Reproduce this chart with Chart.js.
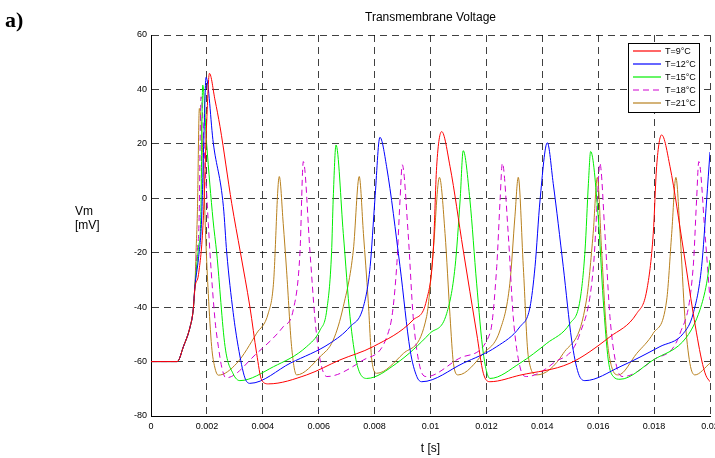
<!DOCTYPE html>
<html>
<head>
<meta charset="utf-8">
<script src="https://cdn.jsdelivr.net/npm/chart.js@4.4.1/dist/chart.umd.min.js"></script>
<style>
  html, body { margin: 0; padding: 0; background: #fff; overflow: hidden; }
  canvas { display: block; }
</style>
</head>
<body>
<canvas id="vm-chart" width="725" height="458"></canvas>
<script>
// Transmembrane voltage traces at five temperatures (t in s, Vm in mV)
const seriesLabels = ['T=9\u00B0C', 'T=12\u00B0C', 'T=15\u00B0C', 'T=18\u00B0C', 'T=21\u00B0C'];

const tT9 = [0, 0.00094, 0.00116, 0.0014, 0.00151, 0.00157, 0.0017, 0.00187, 0.002, 0.00209, 0.00229, 0.00247, 0.00289, 0.0032, 0.00354, 0.00378, 0.00396, 0.0042, 0.00557, 0.00676, 0.00795, 0.00938, 0.00986, 0.0101, 0.01022, 0.0104, 0.0107, 0.01117, 0.01165, 0.01189, 0.01213, 0.0132, 0.01499, 0.01642, 0.01738, 0.01774, 0.01797, 0.01809, 0.01827, 0.01857, 0.01905, 0.0194, 0.0197, 0.01985, 0.02];
const vT9 = [-60, -60, -54.5, -47.2, -41, -33, -28, -8, 30, 45.9, 36.1, 26.3, -2, -20, -40, -57, -66.8, -68.2, -64.9, -59.4, -54.5, -44.7, -37.4, -19, 11.6, 24.5, 11.6, -19, -49.5, -64.3, -67.4, -65, -60.6, -50.9, -42.3, -33.7, -12.9, 11.6, 23.3, 11.6, -19, -42.3, -59.4, -65, -67.4];

const tT12 = [0, 0.00094, 0.00116, 0.0014, 0.00151, 0.00157, 0.0017, 0.00181, 0.0019, 0.00197, 0.00223, 0.00259, 0.00271, 0.00294, 0.00312, 0.00336, 0.00354, 0.005, 0.0064, 0.00712, 0.0076, 0.00784, 0.00801, 0.00819, 0.00843, 0.00891, 0.00927, 0.00951, 0.00969, 0.01117, 0.01237, 0.0132, 0.01356, 0.01374, 0.01392, 0.01418, 0.01439, 0.01475, 0.01505, 0.01529, 0.01553, 0.01678, 0.01821, 0.01905, 0.0194, 0.0197, 0.01988, 0.02];
const vT12 = [-60, -60, -54.5, -47.2, -41, -32.5, -22, -8, 25, 44.4, 20.2, -3, -20, -42, -54.5, -66, -68, -60.5, -53.3, -47.2, -39.8, -25.1, -0.6, 22.4, 11.6, -25.1, -55.7, -65.5, -67.4, -60.6, -54.5, -47.2, -40, -25.1, -0.6, 20.4, 5.5, -25.1, -52.1, -64.3, -67, -61.9, -54.5, -49.6, -42.3, -25.1, -0.6, 17];

const tT15 = [0, 0.00094, 0.00116, 0.0014, 0.00151, 0.00157, 0.0017, 0.00178, 0.00185, 0.00199, 0.00222, 0.00235, 0.00265, 0.00294, 0.00318, 0.00438, 0.00557, 0.00605, 0.00629, 0.00646, 0.00652, 0.00662, 0.00688, 0.00712, 0.00736, 0.00772, 0.00879, 0.00998, 0.01058, 0.01088, 0.01106, 0.01117, 0.01141, 0.01165, 0.01189, 0.01213, 0.0132, 0.01416, 0.01499, 0.01535, 0.01553, 0.01565, 0.01573, 0.016, 0.01618, 0.01636, 0.01654, 0.01678, 0.01797, 0.01917, 0.01964, 0.01988, 0.02];
const vT15 = [-60, -60, -54.5, -47.2, -41, -32.5, -18, -8, 41.6, 20.2, -8, -20, -54.5, -64.5, -67, -61.9, -54.5, -48.4, -41, -20, 0, 19.6, -12.9, -43.5, -60.6, -66.2, -60.6, -49.6, -42.3, -25.1, -0.6, 17.5, -0.6, -31.2, -57, -66.2, -60.6, -53.3, -46, -37.4, -19, 5.5, 17.2, -6.8, -37.4, -59.4, -65.5, -66.5, -59.4, -50.9, -41, -31.2, -22.7];

const tT18 = [0, 0.00094, 0.00116, 0.0014, 0.00151, 0.00157, 0.00165, 0.00172, 0.00179, 0.00193, 0.00205, 0.00211, 0.00229, 0.00241, 0.00253, 0.00268, 0.00378, 0.00473, 0.00509, 0.00533, 0.00545, 0.00569, 0.00587, 0.00605, 0.00629, 0.0076, 0.00855, 0.00879, 0.00891, 0.00899, 0.0092, 0.00938, 0.00962, 0.00986, 0.01117, 0.01213, 0.01237, 0.01249, 0.01257, 0.01278, 0.01296, 0.0132, 0.01344, 0.01439, 0.01535, 0.01583, 0.01597, 0.01606, 0.01624, 0.01642, 0.01666, 0.0169, 0.01797, 0.01893, 0.0194, 0.01952, 0.0196, 0.01982, 0.02];
const vT18 = [-60, -60, -54.5, -47.2, -41, -32.5, -20, -8, 37.3, 12.9, -9.2, -20, -44.7, -54.5, -62, -66, -57, -47.2, -41, -20, 13.5, -20, -44.7, -59.4, -65.5, -59.4, -47.2, -25.1, -0.6, 12.3, -12.9, -43.5, -61.9, -65.5, -58.2, -49.6, -25.1, -0.6, 12.9, -12.9, -43.5, -61.9, -65.5, -60.6, -49.6, -25.1, -0.6, 12.9, -12.9, -43.5, -61.9, -65.5, -59.4, -49.6, -25.1, -0.6, 13.5, -12.9, -37.4];

const tT21 = [0, 0.00094, 0.00116, 0.0014, 0.00151, 0.00157, 0.00161, 0.00166, 0.00173, 0.00187, 0.00196, 0.00205, 0.00217, 0.00228, 0.00241, 0.00307, 0.00378, 0.0042, 0.00438, 0.00459, 0.00473, 0.00485, 0.00503, 0.00521, 0.00605, 0.00652, 0.00688, 0.00724, 0.00745, 0.0076, 0.00777, 0.0079, 0.00808, 0.00903, 0.00986, 0.0101, 0.01032, 0.01052, 0.0107, 0.01082, 0.01099, 0.01189, 0.01249, 0.01284, 0.01302, 0.01314, 0.01332, 0.0135, 0.0138, 0.01475, 0.01558, 0.01582, 0.01597, 0.01612, 0.0163, 0.01648, 0.01672, 0.01738, 0.01797, 0.01845, 0.01863, 0.01878, 0.01893, 0.0191, 0.01928, 0.01946, 0.02];
const vT21 = [-60, -60, -54.5, -47.2, -41, -32.5, -20, -5, 33, 12.9, -15, -35, -54.5, -62, -65, -60.6, -49.6, -42.1, -31.6, 8, -9.2, -26.4, -54.5, -64.9, -58.2, -52.1, -39.8, -19, 8, -12.9, -37.4, -59.4, -64.3, -57, -43.5, -19, 7.7, -12.9, -43.5, -60.6, -64.9, -57, -48.4, -31.2, -6.8, 7.7, -25.1, -58.2, -64.9, -57, -37.4, -12.9, 7.7, -19, -49.6, -61.9, -64.9, -57, -49.6, -37.4, -12.9, 7.7, -12.9, -43.5, -60.6, -64.9, -60.6];

const xTickVals = [0, 0.002, 0.004, 0.006, 0.008, 0.01, 0.012, 0.014, 0.016, 0.018, 0.02];
const yTickVals = [-80, -60, -40, -20, 0, 20, 40, 60];

const lineColors = ['#ff0000', '#0000ff', '#00ee00', '#d000d0', '#b8801e'];
const lineDashes = [[], [], [], [6, 4], []];

const times = [tT9, tT12, tT15, tT18, tT21];
const volts = [vT9, vT12, vT15, vT18, vT21];

const FONT = '"Liberation Sans", Arial, Helvetica, sans-serif';

function toPoints(ts, vs) {
    return ts.map((t, i) => ({ x: t, y: vs[i] }));
}

const datasets = seriesLabels.map((label, i) => ({
    label: label,
    data: toPoints(times[i], volts[i]),
    borderColor: lineColors[i],
    borderWidth: 1,
    borderDash: lineDashes[i],
    pointRadius: 0,
    fill: false,
    cubicInterpolationMode: 'monotone'
}));

// titles, axis captions and the boxed legend
const annotations = {
    id: 'annotations',
    afterDraw(chart) {
        const ctx = chart.ctx;
        const area = chart.chartArea;
        ctx.save();
        ctx.fillStyle = '#000';

        ctx.font = 'bold 22px "Liberation Serif", "Times New Roman", serif';
        ctx.textAlign = 'left';
        ctx.textBaseline = 'alphabetic';
        ctx.fillText('a)', 5, 27);

        ctx.font = '12px ' + FONT;
        ctx.textAlign = 'center';
        ctx.textBaseline = 'middle';
        ctx.fillText('Transmembrane Voltage', (area.left + area.right) / 2, 18);
        ctx.fillText('t [s]', (area.left + area.right) / 2, 449);

        ctx.textAlign = 'left';
        ctx.fillText('Vm', 75, 212);
        ctx.fillText('[mV]', 75, 226);

        // legend box
        const bx = 628, by = 43, bw = 71, bh = 69;
        ctx.fillStyle = '#fff';
        ctx.fillRect(bx, by, bw, bh);
        ctx.strokeStyle = '#000';
        ctx.lineWidth = 1;
        ctx.strokeRect(bx + 0.5, by + 0.5, bw, bh);

        ctx.font = '9px ' + FONT;
        ctx.textBaseline = 'middle';
        chart.data.datasets.forEach((ds, i) => {
            const ry = 51 + i * 13;
            ctx.beginPath();
            ctx.setLineDash(lineDashes[i]);
            ctx.strokeStyle = lineColors[i];
            ctx.lineWidth = 1.2;
            ctx.moveTo(633, ry);
            ctx.lineTo(661, ry);
            ctx.stroke();
            ctx.setLineDash([]);
            ctx.fillStyle = '#000';
            ctx.fillText(ds.label, 665, ry + 1);
        });
        ctx.restore();
    }
};

const gridStyle = { color: 'rgba(0,0,0,0.75)', lineWidth: 1, drawTicks: false };
const borderStyle = { display: true, color: '#000', width: 1, dash: [7, 5] };

new Chart(document.getElementById('vm-chart').getContext('2d'), {
    type: 'line',
    data: { datasets: datasets },
    options: {
        responsive: false,
        animation: false,
        devicePixelRatio: 1,
        layout: { padding: { left: 0, right: 15, top: 35, bottom: 0 } },
        plugins: {
            legend: { display: false },
            tooltip: { enabled: false },
            title: { display: false }
        },
        scales: {
            x: {
                type: 'linear',
                min: 0,
                max: 0.02,
                grid: gridStyle,
                border: borderStyle,
                afterBuildTicks: scale => { scale.ticks = xTickVals.map(v => ({ value: v })); },
                afterFit: scale => { scale.height = 42; },
                ticks: {
                    color: '#000',
                    padding: 5,
                    maxRotation: 0,
                    autoSkip: false,
                    font: { family: FONT, size: 9 },
                    callback: v => String(Number(v.toFixed(3)))
                }
            },
            y: {
                type: 'linear',
                min: -80,
                max: 60,
                grid: gridStyle,
                border: borderStyle,
                afterBuildTicks: scale => { scale.ticks = yTickVals.map(v => ({ value: v })); },
                afterFit: scale => { scale.width = 151; },
                ticks: {
                    color: '#000',
                    padding: 4,
                    autoSkip: false,
                    font: { family: FONT, size: 9 }
                }
            }
        }
    },
    plugins: [annotations]
});
</script>
</body>
</html>
